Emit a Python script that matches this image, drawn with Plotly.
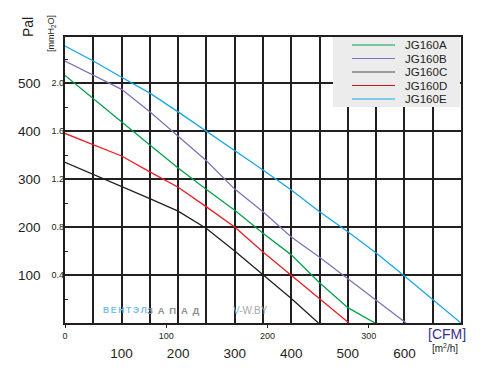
import plotly.graph_objects as go

# ---- data ----
series_names = ["JG160A", "JG160B", "JG160C", "JG160D", "JG160E"]
series_colors = ["#00a04e", "#7f72b8", "#231f20", "#ed1c24", "#14a8e6"]
legend_colors = ["#00a04e", "#7f72b8", "#4d4d4f", "#d0121b", "#14a8e6"]

a_flow = [0, 50, 100, 150, 200, 250, 300, 350, 400, 450, 500, 548]
a_pa = [516, 467, 419, 371, 323, 278, 235, 187, 142, 84, 32, 0]

b_flow = [0, 50, 100, 150, 200, 250, 300, 350, 400, 450, 500, 550, 603]
b_pa = [546, 517, 487, 440, 390, 338, 279, 232, 179, 137, 92, 48, 0]

c_flow = [0, 50, 100, 150, 200, 250, 300, 350, 400, 448]
c_pa = [335, 310, 284, 259, 233, 197, 150, 101, 51, 0]

d_flow = [0, 50, 100, 150, 200, 250, 300, 350, 400, 450, 502]
d_pa = [395, 372, 348, 315, 283, 242, 200, 148, 99, 52, 0]

e_flow = [0, 50, 100, 150, 200, 250, 300, 350, 400, 450, 500, 550, 600, 650, 700]
e_pa = [577, 546, 512, 479, 440, 400, 360, 319, 277, 232, 190, 146, 98, 48, 0]

flows = [a_flow, b_flow, c_flow, d_flow, e_flow]
pressures = [a_pa, b_pa, c_pa, d_pa, e_pa]

m3h_grid = [0, 50, 100, 150, 200, 250, 300, 350, 400, 450, 500, 550, 600, 650, 700]
m3h_labels = ["", "", "100", "", "200", "", "300", "", "400", "", "500", "", "600", "", ""]
cfm_ticks = [0, 100, 200, 300]
pa_ticks = [100, 200, 300, 400, 500]
pa_minor = [50, 150, 250, 350, 450, 550]
mmh2o_ticks = [0.4, 0.8, 1.2, 1.6, 2.0]
mmh2o_labels = ["0.4", "0.8", "1.2", "1.6", "2.0"]

PA_MAX = 596
FLOW_MAX = 700
CFM_MAX = 391
PA_TO_MM = 0.004

FONT = "Liberation Sans, Arial, Helvetica, sans-serif"
INK = "#231f20"

# page body adds an 8px offset; margins compensate so the plot lands at
# screen x 65..461, y 37..323
OFF = 8
L, R, T, B = 65 - OFF, 481 - (461 - OFF), 37 - OFF, 373 - (323 - OFF)

fig = go.Figure()
for name, col, fx, py in zip(series_names, series_colors, flows, pressures):
    fig.add_trace(go.Scatter(x=fx, y=py, mode="lines", name=name,
                             line=dict(color=col, width=1.3), showlegend=False))

# dummy traces to activate secondary axes
fig.add_trace(go.Scatter(x=[0], y=[0], xaxis="x2", yaxis="y", mode="markers",
                         marker=dict(opacity=0), showlegend=False, hoverinfo="skip"))
fig.add_trace(go.Scatter(x=[0], y=[0], xaxis="x", yaxis="y2", mode="markers",
                         marker=dict(opacity=0), showlegend=False, hoverinfo="skip"))

fig.update_layout(
    width=481, height=373,
    margin=dict(l=L, r=R, t=T, b=B, autoexpand=False),
    paper_bgcolor="white", plot_bgcolor="white",
    font=dict(family=FONT, color=INK),
    xaxis=dict(range=[0, FLOW_MAX], tickvals=m3h_grid, ticktext=m3h_labels,
               showgrid=True, gridcolor=INK, gridwidth=1.5,
               showline=True, linecolor=INK, linewidth=1.5, mirror=True,
               ticks="", tickfont=dict(size=13.5, color="#231f20"),
               ticklabelstandoff=17, zeroline=False, fixedrange=True),
    xaxis2=dict(range=[0, CFM_MAX], overlaying="x", side="bottom", anchor="y",
                tickvals=cfm_ticks, ticks="outside", ticklen=4, tickwidth=1.2,
                tickcolor=INK, tickfont=dict(size=9, color=INK),
                showgrid=False, zeroline=False, showline=False, fixedrange=True),
    yaxis=dict(range=[0, PA_MAX], tickvals=pa_ticks,
               showgrid=True, gridcolor=INK, gridwidth=1.5,
               showline=True, linecolor=INK, linewidth=1.5, mirror=True,
               ticks="", tickfont=dict(size=13.5, color=INK),
               ticklabelstandoff=20, zeroline=False, fixedrange=True,
               minor=dict(tickvals=pa_minor, ticks="inside", ticklen=3,
                          tickcolor=INK, tickwidth=1.2, showgrid=False)),
    yaxis2=dict(range=[0, PA_MAX * PA_TO_MM], overlaying="y", side="left", anchor="x",
                tickvals=mmh2o_ticks, ticktext=mmh2o_labels,
                tickfont=dict(size=9, color=INK), ticks="",
                showgrid=False, zeroline=False, showline=False, fixedrange=True),
    showlegend=False,
)

# ---- helpers: screen pixel -> paper coordinate ----
def px_x(p):
    return (p - 65) / 396.0

def px_y(p):
    return (323 - p) / 286.0

# ---- manual legend ----
fig.add_shape(type="rect", xref="paper", yref="paper",
              x0=px_x(333), x1=px_x(460), y0=px_y(107), y1=px_y(37),
              fillcolor="#ececec", line=dict(width=0), layer="above")
for i, (name, col) in enumerate(zip(series_names, legend_colors)):
    yy = 45 + i * 13.5
    fig.add_shape(type="line", xref="paper", yref="paper",
                  x0=px_x(352), x1=px_x(395), y0=px_y(yy), y1=px_y(yy),
                  line=dict(color=col, width=1.2), layer="above")
    fig.add_annotation(xref="paper", yref="paper", x=px_x(403), y=px_y(yy),
                       xanchor="left", yanchor="middle", text=name, showarrow=False,
                       font=dict(size=11.5, color="#231f20", family=FONT))

# ---- axis titles ----
fig.add_annotation(xref="paper", yref="paper", x=px_x(28), y=px_y(27),
                   text="Pal", textangle=-90, showarrow=False,
                   xanchor="center", yanchor="middle",
                   font=dict(size=14, color=INK, family=FONT))
fig.add_annotation(xref="paper", yref="paper", x=px_x(51), y=px_y(34),
                   text="[mmH<sub>2</sub>O]", textangle=-90, showarrow=False,
                   xanchor="center", yanchor="middle",
                   font=dict(size=9, color=INK, family=FONT))
fig.add_annotation(xref="paper", yref="paper", x=px_x(447), y=px_y(334),
                   text="[CFM]", showarrow=False, xanchor="center", yanchor="middle",
                   font=dict(size=14, color="#3b2f8c", family=FONT))
fig.add_annotation(xref="paper", yref="paper", x=px_x(445), y=px_y(348),
                   text="[m<sup>2</sup>/h]", showarrow=False, xanchor="center", yanchor="middle",
                   font=dict(size=10, color=INK, family=FONT))

# ---- watermark ----
fig.add_annotation(xref="paper", yref="paper", x=px_x(101), y=px_y(310),
                   text="<b>В\u2009Е\u2009Н\u2009Т\u2009Э\u2009Л</b>",
                   showarrow=False, xanchor="left", yanchor="middle",
                   font=dict(size=8.5, color="#74c0ea", family=FONT))
fig.add_annotation(xref="paper", yref="paper", x=px_x(145), y=px_y(310),
                   text="<b>З\u2002А\u2002П\u2002А\u2002Д</b>",
                   showarrow=False, xanchor="left", yanchor="middle",
                   font=dict(size=9.5, color="#8e8e8e", family=FONT))
fig.add_annotation(xref="paper", yref="paper", x=px_x(231), y=px_y(310),
                   text="<span style='color:#7cc3eb'>V</span>-W.BY",
                   showarrow=False, xanchor="left", yanchor="middle",
                   font=dict(size=10, color="#a8a8a8", family=FONT))

fig.write_html("out.html")
